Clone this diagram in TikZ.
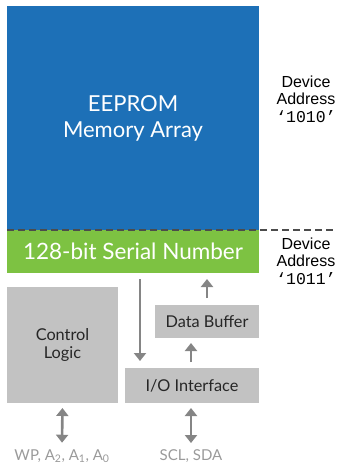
\documentclass[tikz,border=0pt]{standalone}
\usepackage{fontspec}
\setmainfont{Lato}
\newfontfamily\addrfont{Liberation Sans}
\newfontfamily\codefont{Liberation Mono}
\usetikzlibrary{positioning, arrows.meta}

\definecolor{arrayblue}{HTML}{1D70B7}
\definecolor{serialgreen}{HTML}{7DC242}
\definecolor{blockgray}{HTML}{C2C2C2}
\definecolor{arrowgray}{HTML}{858585}
\definecolor{pingray}{HTML}{9A9A9A}

\begin{document}
\begin{tikzpicture}[x=1pt, y=-1pt, >={Triangle[width=12pt, length=8pt]}]
    \tikzstyle{region} = [rectangle, inner sep=2pt, outer sep=0pt, align=center]
    \tikzstyle{block} = [region, fill=blockgray, text=black!85, font=\fontsize{16.3}{18}\selectfont]
    \tikzstyle{addr} = [align=center, font=\addrfont\fontsize{16}{17.5}\selectfont]
    \tikzstyle{pin} = [text=pingray, font=\fontsize{15}{16}\selectfont]
    \tikzstyle{link} = [draw=arrowgray, line width=2.6pt, color=arrowgray]

    \useasboundingbox (0,0) rectangle (339,466);

    % memory regions
    \node[region, fill=arrayblue, text=white, minimum width=252pt, minimum height=224pt,
          font=\fontsize{22}{26}\selectfont] (array) at (133,118) {EEPROM\\Memory Array};
    \node[region, fill=serialgreen, text=white, minimum width=252pt, minimum height=43pt,
          font=\fontsize{22.5}{24}\selectfont] (serial) at (133,251.5) {128-bit Serial Number};

    % logic blocks
    \node[block, minimum width=111pt, minimum height=116pt] (control) at (62.5,345) {Control\\Logic};
    \node[block, minimum width=104pt, minimum height=33pt] (buffer) at (207,321.5) {Data Buffer};
    \node[block, minimum width=134pt, minimum height=35pt] (io) at (192,385.5) {I/O Interface};

    % address labels
    \coordinate (dashend) at (333,230);
    \draw[black!70, line width=1.2pt, dash pattern=on 7pt off 4pt] (serial.north west) -- (dashend);
    \node[addr] (addrA) at (306,99) {Device\\Address\\{\codefont\fontsize{16.5}{17.5}\selectfont ‘1010’}};
    \node[addr] (addrB) at (306,261) {Device\\Address\\{\codefont\fontsize{16.5}{17.5}\selectfont ‘1011’}};

    % pins
    \node[pin] (pins) at (62,456) {WP, A\textsubscript{2}, A\textsubscript{1}, A\textsubscript{0}};
    \node[pin] (bus) at (191,456) {SCL, SDA};

    % data flow
    \draw[link, ->, shorten <=6pt, shorten >=7pt] ([xshift=15pt]serial.south -| io.west) -- ([xshift=15pt]io.north west);
    \draw[link, ->, shorten <=7pt, shorten >=6pt] (buffer.north) -- (buffer.north |- serial.south);
    \draw[link, ->, shorten <=6pt, shorten >=5pt] ([xshift=-1pt]io.north) -- ([xshift=-1pt]io.north |- buffer.south);
    \draw[link, <->, shorten <=5pt, shorten >=3pt] (control.south) -- (pins.north);
    \draw[link, <->, shorten <=5pt, shorten >=3pt] ([xshift=-1pt]io.south) -- (bus.north);
\end{tikzpicture}
\end{document}
